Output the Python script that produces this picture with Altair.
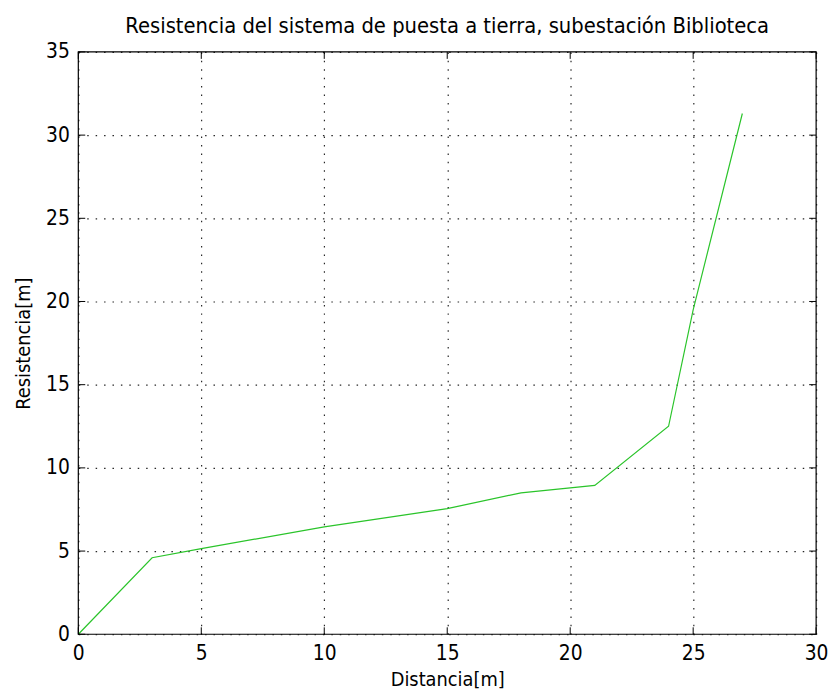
import altair as alt
import pandas as pd

# Data
distancia = [0, 3, 5, 10, 15, 18, 20, 21, 24, 25, 27]
resistencia = [0, 4.6, 5.15, 6.45, 7.55, 8.5, 8.8, 8.95, 12.5, 19.5, 31.3]
x_ticks = [0, 5, 10, 15, 20, 25, 30]
y_ticks = [0, 5, 10, 15, 20, 25, 30, 35]

W, H = 745, 588
FONT = "DejaVu Sans Condensed"

df = pd.DataFrame({"d": distancia, "r": resistencia})
xt = pd.DataFrame({"d": x_ticks})
yt = pd.DataFrame({"r": y_ticks})
frame = pd.DataFrame({"k": [0]})

xs = alt.Scale(domain=[0, 30], nice=False, zero=False)
ys = alt.Scale(domain=[0, 35], nice=False, zero=False)

line = alt.Chart(df).mark_line(color="#2ac42a", strokeWidth=1.2).encode(
    x=alt.X("d:Q", scale=xs, axis=alt.Axis(
        values=x_ticks, title="Distancia[m]", grid=True, ticks=False, domain=False,
        labelPadding=9, titlePadding=6, labelFlush=False, labelOverlap=False)),
    y=alt.Y("r:Q", scale=ys, axis=alt.Axis(
        values=y_ticks, title="Resistencia[m]", grid=True, ticks=False, domain=False,
        labelPadding=9, titlePadding=12, labelFlush=False, labelOverlap=False)),
)

tick_len = 7
xb = alt.Chart(xt).mark_rule(color="black").encode(
    x=alt.X("d:Q", scale=xs), y=alt.value(H), y2=alt.value(H - tick_len))
xtop = alt.Chart(xt).mark_rule(color="black").encode(
    x=alt.X("d:Q", scale=xs), y=alt.value(0), y2=alt.value(tick_len))
yl = alt.Chart(yt).mark_rule(color="black").encode(
    y=alt.Y("r:Q", scale=ys), x=alt.value(0), x2=alt.value(tick_len))
yr = alt.Chart(yt).mark_rule(color="black").encode(
    y=alt.Y("r:Q", scale=ys), x=alt.value(W), x2=alt.value(W - tick_len))
box = alt.Chart(frame).mark_rect(fill=None, stroke="black", strokeWidth=1.2).encode(
    x=alt.value(0), x2=alt.value(W), y=alt.value(0), y2=alt.value(H))

chart = alt.layer(line, xb, xtop, yl, yr, box).properties(
    width=W, height=H,
    background="white",
    title=alt.Title("Resistencia del sistema de puesta a tierra, subestación Biblioteca",
                    fontSize=22, font=FONT, fontWeight="normal", color="black",
                    anchor="middle", offset=3),
    autosize=alt.AutoSizeParams(type="none"),
    padding={"left": 71, "top": 41, "right": 13, "bottom": 60},
).configure_view(
    stroke=None
).configure_axis(
    labelFont=FONT, titleFont=FONT, labelFontSize=21, titleFontSize=20,
    labelColor="black", titleColor="black", titleFontWeight="normal",
    gridColor="black", gridDash=[1.5, 7], gridWidth=1.2, gridOpacity=0.85,
)

chart.save("out.html", embed_options={"renderer": "svg", "actions": False})
